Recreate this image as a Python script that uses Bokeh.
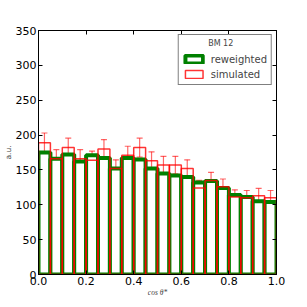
from bokeh.plotting import figure
from bokeh.models import (ColumnDataSource, Legend, LegendItem, LinearAxis, FixedTicker,
                          Whisker, TeeHead, NumeralTickFormatter, CustomLabelingPolicy)
from bokeh.embed import file_html
from bokeh.resources import INLINE

# ---- data ----
bin_lo = [0.00, 0.05, 0.10, 0.15, 0.20, 0.25, 0.30, 0.35, 0.40, 0.45,
          0.50, 0.55, 0.60, 0.65, 0.70, 0.75, 0.80, 0.85, 0.90, 0.95]
bin_hi = [0.05, 0.10, 0.15, 0.20, 0.25, 0.30, 0.35, 0.40, 0.45, 0.50,
          0.55, 0.60, 0.65, 0.70, 0.75, 0.80, 0.85, 0.90, 0.95, 1.00]
reweighted = [175, 166, 172, 162, 171, 167, 152, 167, 165, 152,
              145, 142, 140, 132, 134, 124, 114, 111, 105, 104]
simulated = [189, 166, 182, 166, 164, 180, 152, 171, 182, 163,
             157, 157, 152, 124, 135, 126, 111, 110, 113, 110]
sim_err = [14, 13, 13.5, 13, 13, 13.5, 12.5, 13, 13.5, 13,
           12.5, 12.5, 12.5, 11, 11.5, 11, 10.5, 10.5, 10.5, 10.5]
x_ticks = [0.0, 0.2, 0.4, 0.6, 0.8, 1.0]
y_ticks = [0, 50, 100, 150, 200, 250, 300, 350]

src = ColumnDataSource(dict(
    lo=bin_lo, hi=bin_hi,
    xc=[(a + b) / 2 for a, b in zip(bin_lo, bin_hi)],
    rew=reweighted, sim=simulated,
    upper=[s + e for s, e in zip(simulated, sim_err)],
    lower=[s - e for s, e in zip(simulated, sim_err)],
))

FONT = "DejaVu Sans"

p = figure(width=299, height=299, x_range=(0, 1), y_range=(0, 350),
           output_backend="svg", toolbar_location=None,
           min_border_left=37, min_border_right=23, min_border_top=30, min_border_bottom=25)
p.grid.visible = False
p.outline_line_color = "black"
p.outline_line_width = 1
p.background_fill_color = "white"

green = p.quad(left="lo", right="hi", bottom=0, top="rew", source=src,
               fill_color="white", line_color="#008000", line_width=4)
red = p.quad(left="lo", right="hi", bottom=0, top="sim", source=src,
             fill_color=None, line_color="#ff0000", line_alpha=0.8, line_width=1.5)

wh = Whisker(source=src, base="xc", upper="upper", lower="lower",
             line_color="#ff0000", line_alpha=0.6, line_width=1.2,
             upper_head=TeeHead(size=6, line_color="#ff0000", line_alpha=0.6, line_width=1.2),
             lower_head=TeeHead(size=6, line_color="#ff0000", line_alpha=0.6, line_width=1.2))
p.add_layout(wh)

# axes
for ax in (p.xaxis[0], p.yaxis[0]):
    ax.major_tick_in = 4
    ax.major_tick_out = 0
    ax.minor_tick_line_color = None
    ax.major_label_text_font = FONT
    ax.major_label_text_font_size = "11px"
    ax.major_label_text_color = "black"
    ax.axis_line_color = "black"
    ax.major_tick_line_color = "black"

p.xaxis.ticker = FixedTicker(ticks=x_ticks)
p.xaxis.formatter = NumeralTickFormatter(format="0.0")
p.xaxis.major_label_standoff = 2
p.xaxis.axis_label = "cos θ*"
p.xaxis.axis_label_text_font = "Liberation Serif"
p.xaxis.axis_label_text_font_style = "italic"
p.xaxis.axis_label_text_font_size = "7.5px"
p.xaxis.axis_label_standoff = 0

p.yaxis.ticker = FixedTicker(ticks=y_ticks)
p.yaxis.major_label_standoff = 2
p.yaxis.axis_label = "a.u."
p.yaxis.axis_label_text_font = FONT
p.yaxis.axis_label_text_font_style = "normal"
p.yaxis.axis_label_text_font_size = "7.5px"
p.yaxis.axis_label_standoff = 0

no_labels = CustomLabelingPolicy(code="""
    for (const i of indices) { indices.unset(i) }
    return indices
""")
right = LinearAxis(ticker=FixedTicker(ticks=y_ticks), major_label_policy=no_labels,
                   major_label_standoff=0, major_tick_in=4, major_tick_out=0,
                   minor_tick_line_color=None, axis_line_color="black")
p.add_layout(right, "right")
top = LinearAxis(ticker=FixedTicker(ticks=x_ticks), major_label_policy=no_labels,
                 major_label_standoff=0, major_tick_in=4, major_tick_out=0,
                 minor_tick_line_color=None, axis_line_color="black")
p.add_layout(top, "above")

NB = "\u00a0"
legend = Legend(items=[LegendItem(label="reweighted", renderers=[green]),
                       LegendItem(label="simulated", renderers=[red])],
                title=NB * 10 + "BM 12", location="top_right",
                title_text_font=FONT, title_text_font_size="8px", title_text_font_style="normal",
                label_text_font=FONT, label_text_font_size="10px",
                glyph_width=22, glyph_height=10, label_height=12, label_standoff=6,
                spacing=3, padding=4, margin=4, title_standoff=5,
                border_line_color="black", border_line_width=1, background_fill_alpha=1)
p.add_layout(legend)

open("out.html", "w").write(file_html(p, INLINE))
